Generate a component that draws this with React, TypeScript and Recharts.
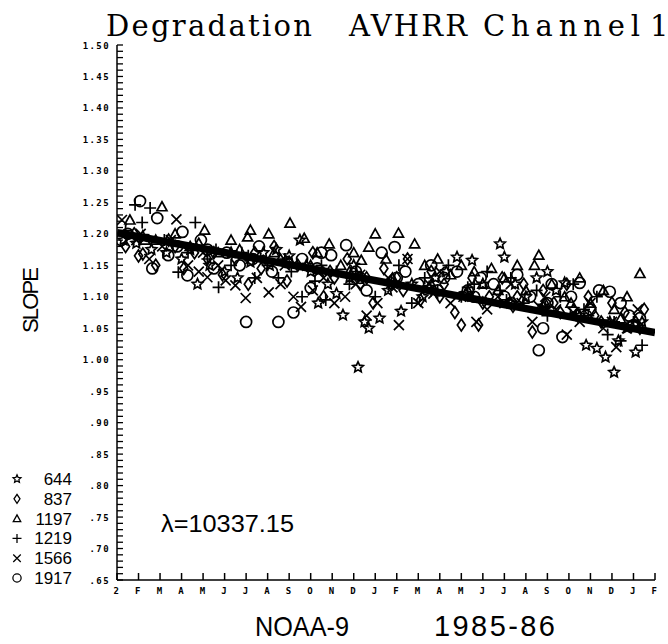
import React from 'react';
import { ScatterChart, Scatter, XAxis, YAxis } from 'recharts';

// month index 0 = Jan 1985 ... 25 = Feb 1987
const monthLabels = ['2', 'F', 'M', 'A', 'M', 'J', 'J', 'A', 'S', 'O', 'N', 'D', 'J', 'F', 'M', 'A', 'M', 'J', 'J', 'A', 'S', 'O', 'N', 'D', 'J', 'F'];
const monthTicks = monthLabels.map((_, i) => i);

const yMajor = [0.65, 0.7, 0.75, 0.8, 0.85, 0.9, 0.95, 1.0, 1.05, 1.1, 1.15, 1.2, 1.25, 1.3, 1.35, 1.4, 1.45, 1.5];
const yLabels = ['.65', '.70', '.75', '.80', '.85', '.90', '.95', '1.00', '1.05', '1.10', '1.15', '1.20', '1.25', '1.30', '1.35', '1.40', '1.45', '1.50'];
const yMinor = Array.from({ length: 86 }, (_, i) => Math.round(65 + i) / 100);

// [month, slope] per wavelength (nm)
const s644: [number, number][] = [
  [0.3, 1.19], [0.9, 1.185], [1.6, 1.175], [2.3, 1.17], [3.0, 1.16], [3.74, 1.12], [4.3, 1.15], [5.0, 1.14], [5.6, 1.13], [6.2, 1.155],
  [6.8, 1.17], [7.4, 1.175], [8.0, 1.165], [8.5, 1.19], [9.0, 1.14], [9.35, 1.09], [9.8, 1.12], [10.2, 1.105], [10.5, 1.071], [11.0, 1.15],
  [11.2, 0.988], [11.5, 1.06], [11.7, 1.05], [12.2, 1.066], [12.6, 1.11], [13.2, 1.077], [13.7, 1.12], [14.2, 1.10], [14.8, 1.13], [15.3, 1.14],
  [15.8, 1.163], [16.5, 1.158], [17.0, 1.12], [17.8, 1.184], [18.0, 1.163], [18.5, 1.12], [19.0, 1.10], [19.5, 1.13], [20.0, 1.14], [20.4, 1.11],
  [20.8, 1.122], [21.2, 1.08], [21.8, 1.023], [22.3, 1.018], [22.7, 1.004], [23.1, 0.98], [23.3, 1.03], [23.7, 1.05], [24.1, 1.012], [24.4, 1.06],
  [1.2, 1.196], [3.4, 1.175], [5.3, 1.17], [7.1, 1.15], [8.8, 1.15], [10.8, 1.13], [12.9, 1.12], [14.5, 1.115], [16.2, 1.105], [18.3, 1.09],
  [19.8, 1.085], [21.5, 1.07], [22.9, 1.06],
];
const s837: [number, number][] = [
  [0.4, 1.18], [1.0, 1.165], [1.2, 1.168], [1.8, 1.15], [2.4, 1.19], [3.1, 1.145], [3.6, 1.17], [4.2, 1.16], [4.9, 1.135], [5.5, 1.16],
  [6.1, 1.12], [6.7, 1.145], [7.3, 1.18], [7.9, 1.125], [8.4, 1.15], [9.1, 1.17], [9.6, 1.10], [10.1, 1.13], [10.7, 1.16], [11.3, 1.12],
  [11.9, 1.09], [12.4, 1.145], [13.0, 1.13], [13.5, 1.16], [14.1, 1.095], [14.6, 1.14], [15.2, 1.12], [15.7, 1.075], [16.0, 1.055], [16.5, 1.13],
  [16.8, 1.055], [17.3, 1.10], [17.9, 1.13], [18.4, 1.085], [18.9, 1.12], [19.3, 1.044], [19.8, 1.11], [20.3, 1.09], [20.9, 1.12], [21.4, 1.07],
  [21.9, 1.10], [22.5, 1.06], [23.0, 1.09], [23.6, 1.075], [24.1, 1.06], [24.5, 1.08],
  [0.8, 1.20], [2.7, 1.18], [4.5, 1.17], [6.4, 1.17], [8.0, 1.155], [9.9, 1.14], [11.6, 1.13], [13.3, 1.11], [15.0, 1.10], [17.0, 1.09],
  [18.6, 1.10], [20.6, 1.075], [22.2, 1.07], [24.3, 1.05],
];
const s1197: [number, number][] = [
  [0.6, 1.222], [1.3, 1.19], [2.09, 1.243], [2.7, 1.20], [3.4, 1.18], [4.07, 1.206], [4.7, 1.17], [5.3, 1.19], [6.07, 1.195], [6.2, 1.206],
  [7.05, 1.20], [7.6, 1.16], [8.04, 1.217], [8.7, 1.193], [9.3, 1.17], [9.86, 1.184], [10.4, 1.15], [11.0, 1.17], [11.35, 1.158], [11.7, 1.179],
  [12.0, 1.20], [12.5, 1.16], [13.08, 1.201], [13.83, 1.184], [14.3, 1.15], [14.9, 1.16], [15.5, 1.135], [16.0, 1.15], [16.6, 1.14], [17.0, 1.12],
  [17.4, 1.145], [18.0, 1.13], [18.6, 1.15], [19.0, 1.11], [19.4, 1.15], [19.6, 1.166], [20.2, 1.12], [20.8, 1.10], [21.5, 1.13], [22.0, 1.09],
  [22.6, 1.11], [23.1, 1.08], [23.7, 1.10], [24.3, 1.137],
  [1.8, 1.19], [3.8, 1.185], [5.7, 1.175], [7.3, 1.17], [9.0, 1.15], [10.8, 1.14], [12.8, 1.13], [14.6, 1.12], [16.3, 1.11], [17.7, 1.11],
  [19.9, 1.09], [21.1, 1.09], [23.4, 1.065],
];
const s1219: [number, number][] = [
  [0.84, 1.246], [1.17, 1.218], [1.54, 1.241], [2.2, 1.19], [2.85, 1.139], [3.3, 1.17], [3.64, 1.218], [4.2, 1.16], [4.72, 1.115], [5.3, 1.15],
  [5.8, 1.17], [6.4, 1.13], [7.0, 1.15], [7.5, 1.13], [8.1, 1.14], [8.6, 1.10], [9.2, 1.125], [9.7, 1.095], [10.2, 1.14], [10.8, 1.12],
  [11.4, 1.13], [12.0, 1.10], [12.6, 1.12], [13.1, 1.15], [13.7, 1.09], [14.3, 1.13], [14.9, 1.11], [15.4, 1.15], [16.0, 1.10], [16.6, 1.12],
  [17.2, 1.14], [17.8, 1.11], [18.3, 1.13], [18.9, 1.09], [19.5, 1.11], [20.0, 1.07], [20.6, 1.10], [21.2, 1.12], [21.7, 1.08], [22.3, 1.10],
  [22.8, 1.04], [23.4, 1.03], [24.0, 1.06], [24.4, 1.023],
  [0.4, 1.205], [2.6, 1.185], [4.6, 1.175], [6.1, 1.165], [7.8, 1.16], [9.5, 1.15], [11.1, 1.14], [12.9, 1.125], [14.6, 1.11], [16.3, 1.115],
  [18.1, 1.095], [19.9, 1.085], [21.9, 1.07], [23.1, 1.06],
];
const s1566: [number, number][] = [
  [0.23, 1.222], [0.9, 1.19], [1.5, 1.16], [2.1, 1.18], [2.76, 1.223], [3.3, 1.15], [3.8, 1.14], [4.2, 1.131], [4.7, 1.15], [5.05, 1.126],
  [5.5, 1.118], [5.98, 1.098], [6.5, 1.13], [7.05, 1.107], [7.6, 1.12], [8.2, 1.10], [8.55, 1.084], [9.1, 1.11], [9.6, 1.13], [10.1, 1.09],
  [10.6, 1.10], [11.1, 1.12], [11.6, 1.07], [12.1, 1.09], [12.6, 1.13], [13.1, 1.055], [13.5, 1.16], [14.0, 1.09], [14.5, 1.12], [15.0, 1.14],
  [15.5, 1.09], [16.1, 1.10], [16.7, 1.06], [17.2, 1.08], [17.7, 1.10], [18.3, 1.12], [18.8, 1.09], [19.3, 1.06], [19.9, 1.10], [20.4, 1.08],
  [20.9, 1.04], [21.5, 1.06], [22.0, 1.09], [22.6, 1.05], [23.2, 1.02], [23.7, 1.05], [24.2, 1.08],
  [1.1, 1.20], [2.5, 1.19], [4.0, 1.17], [6.2, 1.16], [7.8, 1.15], [9.4, 1.14], [11.3, 1.135], [12.8, 1.115], [14.7, 1.105], [16.4, 1.10],
  [18.0, 1.09], [19.6, 1.085], [21.2, 1.075], [23.0, 1.06],
];
const s1917: [number, number][] = [
  [0.5, 1.20], [1.07, 1.252], [1.64, 1.145], [1.87, 1.225], [2.38, 1.166], [3.04, 1.203], [3.27, 1.134], [3.9, 1.19], [4.5, 1.145], [5.1, 1.17],
  [5.7, 1.15], [6.0, 1.06], [6.6, 1.18], [7.2, 1.14], [7.5, 1.06], [8.2, 1.075], [8.6, 1.16], [9.0, 1.114], [9.5, 1.17], [9.95, 1.166],
  [10.65, 1.182], [11.1, 1.14], [11.6, 1.11], [12.3, 1.17], [12.9, 1.179], [13.4, 1.14], [14.0, 1.12], [14.6, 1.15], [15.2, 1.13], [15.8, 1.14],
  [16.3, 1.11], [16.9, 1.13], [17.5, 1.12], [18.0, 1.10], [18.6, 1.135], [19.2, 1.10], [19.6, 1.015], [19.8, 1.05], [20.2, 1.12], [20.7, 1.036],
  [21.1, 1.10], [21.5, 1.122], [22.0, 1.08], [22.4, 1.11], [22.9, 1.108], [23.4, 1.09], [23.8, 1.07], [24.3, 1.066],
  [0.2, 1.19], [2.8, 1.18], [4.2, 1.175], [6.3, 1.16], [7.9, 1.155], [9.3, 1.145], [11.3, 1.13], [13.0, 1.13], [14.9, 1.11], [16.6, 1.10],
  [18.3, 1.09], [20.0, 1.09], [21.8, 1.07], [24.0, 1.055],
];

// fitted degradation line
const fitX = [0, 25];
const fitY = [1.202, 1.043];

const toPts = (a: [number, number][]) => a.map(([x, y]) => ({ x, y }));
const fitPts = fitX.map((x, i) => ({ x, y: fitY[i] }));

const SW = 1.7;

const Star = ({ cx, cy }: any) => {
  const pts: string[] = [];
  for (let i = 0; i < 10; i++) {
    const r = i % 2 === 0 ? 5.5 : 2.6;
    const a = -Math.PI / 2 + (i * Math.PI) / 5;
    pts.push(`${cx + r * Math.cos(a)},${cy + r * Math.sin(a)}`);
  }
  return <polygon points={pts.join(' ')} fill="none" stroke="#000" strokeWidth={SW} />;
};
const Diamond = ({ cx, cy }: any) => (
  <polygon points={`${cx},${cy - 6} ${cx + 4},${cy} ${cx},${cy + 6} ${cx - 4},${cy}`} fill="none" stroke="#000" strokeWidth={SW} />
);
const Triangle = ({ cx, cy }: any) => (
  <polygon points={`${cx},${cy - 5} ${cx + 5},${cy + 4} ${cx - 5},${cy + 4}`} fill="none" stroke="#000" strokeWidth={SW} />
);
const Plus = ({ cx, cy }: any) => (
  <path d={`M${cx - 6},${cy}H${cx + 6}M${cx},${cy - 6}V${cy + 6}`} stroke="#000" strokeWidth={SW} fill="none" />
);
const Cross = ({ cx, cy }: any) => (
  <path d={`M${cx - 5},${cy - 5}L${cx + 5},${cy + 5}M${cx + 5},${cy - 5}L${cx - 5},${cy + 5}`} stroke="#000" strokeWidth={SW} fill="none" />
);
const Circle = ({ cx, cy }: any) => <circle cx={cx} cy={cy} r={5.5} fill="none" stroke="#000" strokeWidth={SW} />;
const NoDot = () => <g />;

const series = [
  { name: '644', data: s644, shape: Star },
  { name: '837', data: s837, shape: Diamond },
  { name: '1197', data: s1197, shape: Triangle },
  { name: '1219', data: s1219, shape: Plus },
  { name: '1566', data: s1566, shape: Cross },
  { name: '1917', data: s1917, shape: Circle },
];

const tickFont = { fontFamily: 'DejaVu Sans Mono', fontWeight: 700, fontSize: 9, letterSpacing: 1.4 };

const majorIndex = (v: number) => yMajor.findIndex((m) => Math.abs(m - v) < 1e-6);

const LeftTick = (props: any) => {
  const { x, y, payload } = props;
  const idx = majorIndex(payload.value);
  return (
    <g>
      <line x1={x} x2={x + 6} y1={y} y2={y} stroke="#000" strokeWidth={1.3} />
      {idx >= 0 && (
        <text x={x - 7} y={y + 3.5} textAnchor="end" fill="#000" style={tickFont}>
          {yLabels[idx]}
        </text>
      )}
    </g>
  );
};

const RightTick = (props: any) => {
  const { x, y, payload } = props;
  const idx = majorIndex(payload.value);
  if (idx < 0) return <g />;
  return <line x1={x} x2={x - 5} y1={y} y2={y} stroke="#000" strokeWidth={1.3} />;
};

const BottomTick = (props: any) => {
  const { x, y, payload } = props;
  return (
    <g>
      <line x1={x} x2={x} y1={y} y2={y - 7} stroke="#000" strokeWidth={1.5} />
      <text x={x} y={y + 14} textAnchor="middle" fill="#000" style={tickFont}>
        {monthLabels[payload.value]}
      </text>
    </g>
  );
};

const TopTick = (props: any) => {
  const { x, y } = props;
  return <line x1={x} x2={x} y1={y} y2={y + 7} stroke="#000" strokeWidth={1.5} />;
};

const legendY0 = 479;
const legendStep = 19.8;

const titleWords = [
  { text: 'Degradation', x: 106, len: 206 },
  { text: 'AVHRR', x: 349, len: 118 },
  { text: 'Channel', x: 483, len: 157 },
  { text: '1', x: 650, len: 12 },
];

export default function App() {
  return (
    <div style={{ position: 'absolute', left: 0, top: 0, width: 668, height: 644, background: '#fff' }}>
      <ScatterChart width={668} height={644} margin={{ top: 45, right: 13, bottom: 0, left: 0 }}>
        <XAxis
          xAxisId="bottom"
          dataKey="x"
          type="number"
          domain={[0, 25]}
          allowDataOverflow
          ticks={monthTicks}
          interval={0}
          height={64}
          tickSize={0}
          tickMargin={0}
          tickLine={false}
          axisLine={{ stroke: '#000', strokeWidth: 1.5 }}
          tick={<BottomTick />}
        />
        <XAxis
          xAxisId="top"
          dataKey="x"
          type="number"
          orientation="top"
          domain={[0, 25]}
          allowDataOverflow
          ticks={monthTicks}
          interval={0}
          height={0}
          tickSize={0}
          tickMargin={0}
          tickLine={false}
          axisLine={{ stroke: '#000', strokeWidth: 1.5 }}
          tick={<TopTick />}
        />
        <YAxis
          yAxisId="left"
          dataKey="y"
          type="number"
          domain={[0.65, 1.5]}
          allowDataOverflow
          ticks={yMinor}
          interval={0}
          width={117}
          tickSize={0}
          tickMargin={0}
          tickLine={false}
          axisLine={{ stroke: '#000', strokeWidth: 1.5 }}
          tick={<LeftTick />}
        />
        <YAxis
          yAxisId="right"
          dataKey="y"
          type="number"
          orientation="right"
          domain={[0.65, 1.5]}
          allowDataOverflow
          ticks={yMajor}
          interval={0}
          width={0}
          tickSize={0}
          tickMargin={0}
          tickLine={false}
          axisLine={{ stroke: '#000', strokeWidth: 1.5 }}
          tick={<RightTick />}
        />
        {series.map((s) => (
          <Scatter
            key={s.name}
            name={s.name}
            data={toPts(s.data)}
            xAxisId="bottom"
            yAxisId="left"
            shape={s.shape}
            isAnimationActive={false}
          />
        ))}
        <Scatter
          name="fit"
          data={fitPts}
          xAxisId="top"
          yAxisId="right"
          line={{ stroke: '#000', strokeWidth: 7.5 }}
          shape={NoDot}
          isAnimationActive={false}
        />
      </ScatterChart>
      <svg width={668} height={644} style={{ position: 'absolute', left: 0, top: 0, pointerEvents: 'none' }}>
        {titleWords.map((w) => (
          <text key={w.text} x={w.x} y={36} fontFamily="DejaVu Serif" fontSize={29} textLength={w.len} lengthAdjust="spacing" fill="#000">
            {w.text}
          </text>
        ))}
        <text
          transform="translate(38,300) rotate(-90)"
          textAnchor="middle"
          fontFamily="Liberation Sans"
          fontSize={22}
          textLength={66}
          lengthAdjust="spacing"
          fill="#000"
        >
          SLOPE
        </text>
        <text x={255} y={636} fontFamily="Liberation Sans" fontSize={28} textLength={94} lengthAdjust="spacingAndGlyphs" fill="#000">
          NOAA-9
        </text>
        <text x={434} y={636} fontFamily="Liberation Sans" fontSize={29} textLength={121} lengthAdjust="spacing" fill="#000">
          1985-86
        </text>
        <text x={161} y={532} fontFamily="Liberation Sans" fontSize={24} textLength={133} lengthAdjust="spacingAndGlyphs" fill="#000">
          λ=10337.15
        </text>
        {series.map((s, i) => {
          const Shape = s.shape;
          const y = legendY0 + i * legendStep;
          return (
            <g key={s.name}>
              <g transform={`translate(17,${y}) scale(0.75) translate(-17,${-y})`}>
                <Shape cx={17} cy={y} />
              </g>
              <text x={72} y={y + 6} textAnchor="end" fontFamily="Liberation Sans" fontSize={17} fill="#000">
                {s.name}
              </text>
            </g>
          );
        })}
      </svg>
    </div>
  );
}
